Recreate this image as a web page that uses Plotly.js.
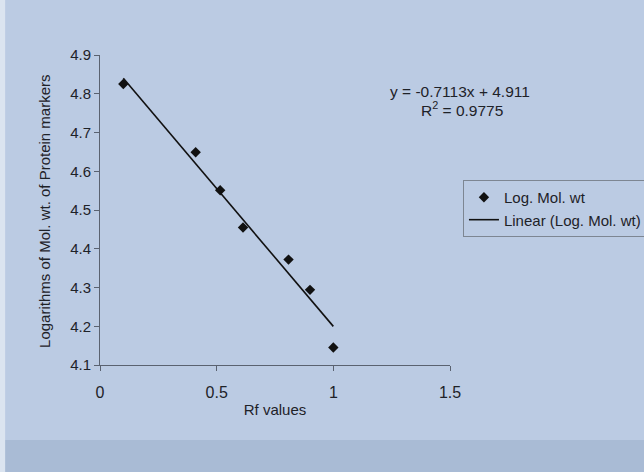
<!DOCTYPE html>
<html>
<head>
<meta charset="utf-8">
<script src="https://cdn.plot.ly/plotly-3.0.1.min.js"></script>
<style>
html,body{margin:0;padding:0;background:#bccbe2;}
#chart{width:644px;height:472px;}
</style>
</head>
<body>
<div id="chart"></div>
<script>
// Data
var rfValues = [0.10, 0.41, 0.515, 0.613, 0.808, 0.90, 1.00];
var logMolWt = [4.825, 4.649, 4.551, 4.455, 4.372, 4.294, 4.145];
// Trendline coefficients as printed on the chart
var trendSlope = -0.7113;
var trendIntercept = 4.911;
var rSquared = 0.9775;
var xTicks = [0, 0.5, 1, 1.5];
var yTicks = [4.1, 4.2, 4.3, 4.4, 4.5, 4.6, 4.7, 4.8, 4.9];

var xMin = Math.min.apply(null, rfValues);
var xMax = Math.max.apply(null, rfValues);
var trendX = [xMin, xMax];
var trendY = trendX.map(function(x){ return trendSlope * x + trendIntercept; });

var font = 'Liberation Sans, Arial, sans-serif';
var ink = '#1e2228';

var traces = [
  {
    x: rfValues, y: logMolWt, type: 'scatter', mode: 'markers',
    name: 'Log. Mol. wt',
    marker: {symbol: 'diamond', size: 8, color: '#111'}
  },
  {
    x: trendX, y: trendY, type: 'scatter', mode: 'lines',
    name: 'Linear (Log. Mol. wt)',
    line: {color: '#111', width: 1.6}
  }
];

var layout = {
  width: 644, height: 472,
  margin: {l: 100, r: 194, t: 55, b: 107, autoexpand: false},
  paper_bgcolor: '#bbcbe3',
  plot_bgcolor: 'rgba(0,0,0,0)',
  font: {family: font, color: ink, size: 14},
  showlegend: true,
  legend: {
    x: 1.037, y: 0.597, xanchor: 'left', yanchor: 'top',
    bgcolor: 'rgba(0,0,0,0)', bordercolor: '#7d8692', borderwidth: 1,
    font: {family: font, size: 15, color: ink},
    tracegroupgap: 0
  },
  xaxis: {
    range: [0, 1.5], tickvals: xTicks, ticktext: xTicks.map(String),
    showgrid: false, zeroline: false, showline: true, linecolor: '#5a6270', linewidth: 1,
    ticks: 'outside', ticklen: 5, tickcolor: '#5a6270',
    ticklabelstandoff: 8,
    tickfont: {family: font, size: 16, color: ink},
    title: {text: 'Rf values', font: {family: font, size: 15, color: ink}, standoff: 4},
    automargin: false
  },
  yaxis: {
    range: [4.1, 4.9], tickvals: yTicks, ticktext: yTicks.map(function(v){return v.toFixed(1);}),
    showgrid: false, zeroline: false, showline: true, linecolor: '#5a6270', linewidth: 1,
    ticks: 'outside', ticklen: 5, tickcolor: '#5a6270',
    tickfont: {family: font, size: 15, color: ink},
    automargin: false
  },
  annotations: [
    {xref: 'paper', yref: 'paper', x: -0.157, y: 0.494, showarrow: false, textangle: -90,
     xanchor: 'center', yanchor: 'middle',
     text: 'Logarithms of Mol. wt. of Protein markers', font: {family: font, size: 15, color: ink}},
    {xref: 'paper', yref: 'paper', x: 1.029, y: 0.881, showarrow: false, xanchor: 'center', yanchor: 'middle',
     text: 'y = -0.7113x + 4.911', font: {family: font, size: 15.5, color: ink}},
    {xref: 'paper', yref: 'paper', x: 1.034, y: 0.826, showarrow: false, xanchor: 'center', yanchor: 'middle',
     text: 'R<sup>2</sup> = ' + rSquared, font: {family: font, size: 15.5, color: ink}}
  ],
  shapes: [
    {type: 'rect', xref: 'paper', yref: 'paper', layer: 'below',
     x0: -0.3, x1: 1.6, y0: -0.242, y1: -0.36, line: {width: 0}, fillcolor: '#a9bbd5'},
    {type: 'rect', xref: 'paper', yref: 'paper', layer: 'below',
     x0: -0.2857, x1: -0.271, y0: -0.36, y1: 1.18, line: {width: 0}, fillcolor: '#dbe4f0'}
  ]
};

Plotly.newPlot('chart', traces, layout, {displayModeBar: false, staticPlot: true});
</script>
</body>
</html>
